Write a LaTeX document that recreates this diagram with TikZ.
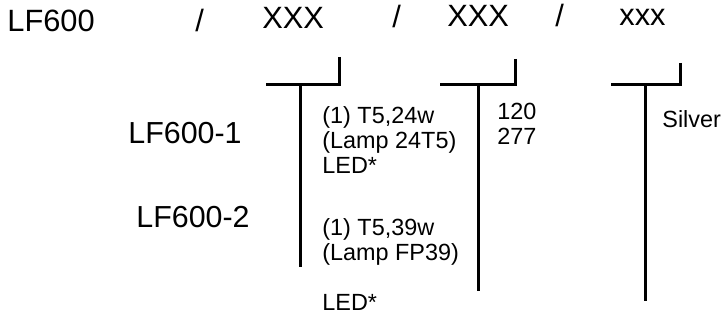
\documentclass[tikz,border=0pt]{standalone}
\usepackage{fontspec}
\setmainfont{Liberation Sans}
\usepackage{tikz}
\usetikzlibrary{positioning}

\begin{document}
\begin{tikzpicture}[
  x=0.5pt,y=-0.5pt,
  code/.style={inner sep=0pt,anchor=base west,font=\fontsize{15.4pt}{18pt}\selectfont},
  model/.style={inner sep=0pt,anchor=base west,font=\fontsize{15.2pt}{18pt}\selectfont},
  note/.style={inner sep=0pt,anchor=base west,align=left,font=\fontsize{11.7pt}{12.6pt}\selectfont},
  bracket/.style={line width=1.5pt},
]
\useasboundingbox (0,0) rectangle (725,331);

% Ordering code
\node[code] (series) at (7,32) {LF600};
\node[code] (sl1) at (195,32) {/};
\node[code] (lamp) at (262,29) {XXX};
\node[code] (sl2) at (392,28) {/};
\node[code] (volt) at (447,27) {XXX};
\node[code] (sl3) at (555,27) {/};
\node[code] (finish) at (619,26) {xxx};

% Models
\node[model] (lf1) at (128,144) {LF600-1};
\node[model] (lf2) at (136,228) {LF600-2};

% Options (base = last line)
\node[note] (lampA) at (322,174) {(1) T5,24w\\(Lamp 24T5)\\LED*};
\node[note] (lampB) at (322,261) {(1) T5,39w\\(Lamp FP39)};
\node[note] (lampC) at (322,311) {LED*};
\node[note] (voltopt) at (497,145) {120\\277};
\node[note] (finopt) at (662,128) {Silver};

% Brackets
\coordinate (tick1) at (339,57);
\coordinate (corner1) at (339,85);
\coordinate (end1) at (266,85);
\coordinate (top1) at (300,85);
\coordinate (bot1) at (300,267);
\coordinate (tick2) at (515,59);
\coordinate (corner2) at (515,85);
\coordinate (end2) at (440,85);
\coordinate (top2) at (478,85);
\coordinate (bot2) at (478,291);
\coordinate (tick3) at (680,63);
\coordinate (corner3) at (680,85);
\coordinate (end3) at (611,85);
\coordinate (top3) at (645,85);
\coordinate (bot3) at (645,301);

\draw[bracket] (tick1) -- (corner1) -- (end1);
\draw[bracket] (top1) -- (bot1);
\draw[bracket] (tick2) -- (corner2) -- (end2);
\draw[bracket] (top2) -- (bot2);
\draw[bracket] (tick3) -- (corner3) -- (end3);
\draw[bracket] (top3) -- (bot3);

\end{tikzpicture}
\end{document}
